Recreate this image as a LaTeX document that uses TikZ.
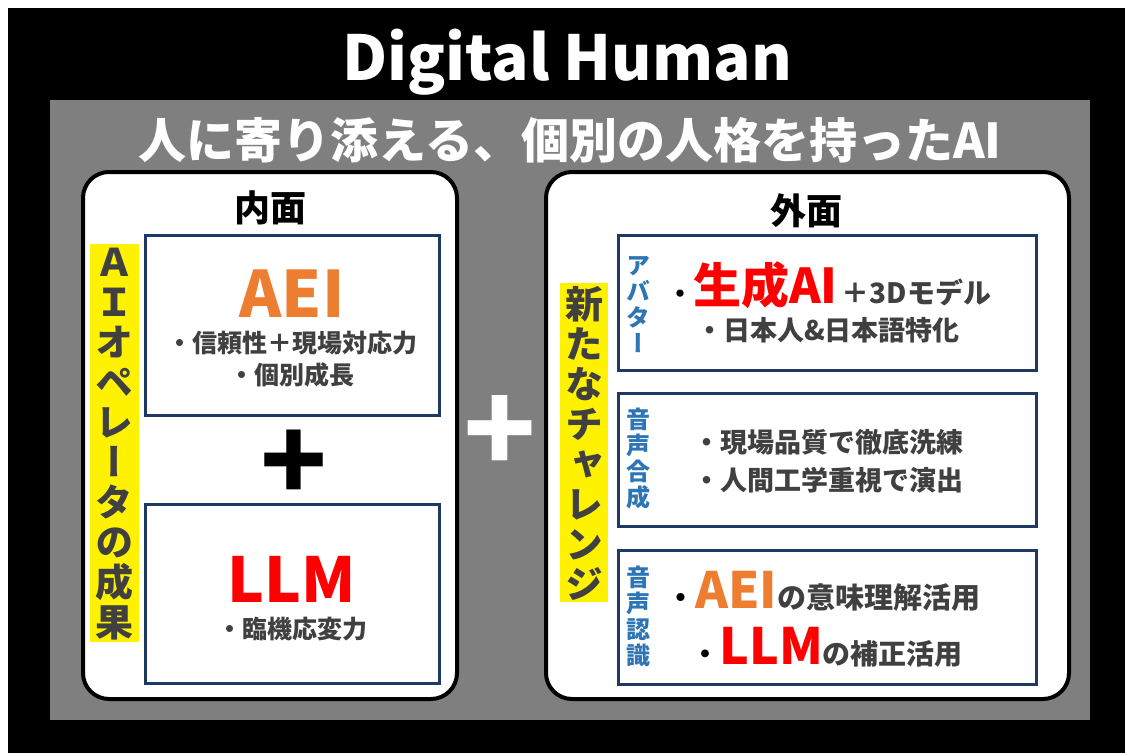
\documentclass[tikz,border=0pt]{standalone}
\usepackage{fontspec}
\setmainfont{Noto Sans CJK JP}
\newfontfamily\vjp{Noto Sans CJK JP}[RawFeature=+vert]
\definecolor{panelgray}{HTML}{7F7F7F}
\definecolor{boxnavy}{HTML}{1F3864}
\definecolor{aeiorange}{HTML}{ED7D31}
\definecolor{llmred}{HTML}{FF0000}
\definecolor{tagblue}{HTML}{2E75B6}
\definecolor{textgray}{HTML}{404040}
\newcommand{\pxsize}[2][1.05]{\fontsize{#2}{#1\dimexpr #2pt\relax}\selectfont}

\begin{document}
\begin{tikzpicture}[x=1pt,y=-1pt,
  panel/.style={draw=black,line width=4pt,fill=white,rounded corners=26pt,inner sep=0pt},
  itembox/.style={draw=boxnavy,line width=3pt,fill=white,inner sep=0pt},
  hilite/.style={fill=yellow,inner sep=0pt},
  vtext/.style={align=center,inner sep=0pt,text=textgray,font=\vjp\bfseries\fontsize{38}{40}\selectfont},
  vtag/.style={align=center,inner sep=0pt,text=tagblue,font=\vjp\bfseries\fontsize{24}{26}\selectfont},
  body/.style={anchor=base,inner sep=0pt,text=textgray,font=\bfseries\pxsize{25}},
  head/.style={anchor=base,inner sep=0pt,font=\bfseries\pxsize{36}}]
\useasboundingbox (0,0) rectangle (1125,753);
\fill[white] (0,0) rectangle (1125,753);
\fill[black] (8,8) rectangle (1125,753);
\fill[panelgray] (50,100) rectangle (1090,720);

\node[anchor=base,inner sep=0pt,text=white,font=\bfseries\pxsize{62}] (title) at (567,80) {Digital Human};
\node[anchor=base,inner sep=0pt,text=white,font=\bfseries\pxsize{48}] (motto) at (570,158) {人に寄り添える、個別の人格を持ったAI};

\node[panel,minimum width=374pt,minimum height=527pt] (inner) at (270,435.5) {};
\node[panel,minimum width=523pt,minimum height=527pt] (outer) at (807.5,435.5) {};

\node[head] (innerhead) at (270,221) {内面};
\node[head] (outerhead) at (806,224) {外面};

\node[hilite,minimum width=49pt,minimum height=398pt] (opbar) at (114.5,443) {};
\node[vtext] (optext) at (114.5,444) {Ａ\\Ｉ\\オ\\ペ\\レ\\ー\\タ\\の\\成\\果};

\node[itembox,minimum width=294pt,minimum height=180pt] (aeibox) at (292,325) {};
\node[anchor=base,inner sep=0pt,text=aeiorange,font=\bfseries\pxsize{64}] (aei) at (292,317) {AEI};
\node[body] (aei1) at (292,352) {・信頼性＋現場対応力};
\node[body] (aei2) at (292,384) {・個別成長};

\node[inner sep=0pt,font=\bfseries\pxsize{110}] (plusin) at (294,466) {+};

\node[itembox,minimum width=294pt,minimum height=179pt] (llmbox) at (292,593.5) {};
\node[anchor=base,inner sep=0pt,text=llmred,font=\bfseries\pxsize{62}] (llm) at (292,602) {LLM};
\node[body] (llm1) at (292,638) {・臨機応変力};

\node[inner sep=0pt,text=white,font=\bfseries\pxsize{120}] (plusout) at (500,434) {+};

\node[hilite,minimum width=48pt,minimum height=319pt] (newbar) at (584,442.5) {};
\node[vtext] (newtext) at (584,443) {新\\た\\な\\チ\\ャ\\レ\\ン\\ジ};

\node[itembox,minimum width=418pt,minimum height=135pt] (avbox) at (827,302.5) {};
\node[vtag] (avtag) at (638,305) {ア\\バ\\タ\\ー};
\node[body,anchor=base west] (av1) at (667,303) {\textcolor{black}{\pxsize{26}・}\textcolor{llmred}{\pxsize{48}生成AI}\,\pxsize{28}＋3Dモデル};
\node[body,font=\bfseries\pxsize{27}] (av2) at (828,340) {・日本人\&日本語特化};

\node[itembox,minimum width=418pt,minimum height=133pt] (synbox) at (827,459.5) {};
\node[vtag] (syntag) at (638,458.5) {音\\声\\合\\成};
\node[body,font=\bfseries\pxsize{27}] (syn1) at (828,452) {・現場品質で徹底洗練};
\node[body,font=\bfseries\pxsize{27}] (syn2) at (828,490) {・人間工学重視で演出};

\node[itembox,minimum width=418pt,minimum height=134pt] (recbox) at (827,617) {};
\node[vtag] (rectag) at (638,616.5) {音\\声\\認\\識};
\node[body,anchor=base west,font=\bfseries\pxsize{29}] (rec1) at (666,608) {\textcolor{black}{・}\textcolor{aeiorange}{\pxsize{50}AEI}の意味理解活用};
\node[body,anchor=base west,font=\bfseries\pxsize{28}] (rec2) at (691,664) {\textcolor{black}{・}\textcolor{llmred}{\pxsize{50}LLM}の補正活用};
\end{tikzpicture}
\end{document}
